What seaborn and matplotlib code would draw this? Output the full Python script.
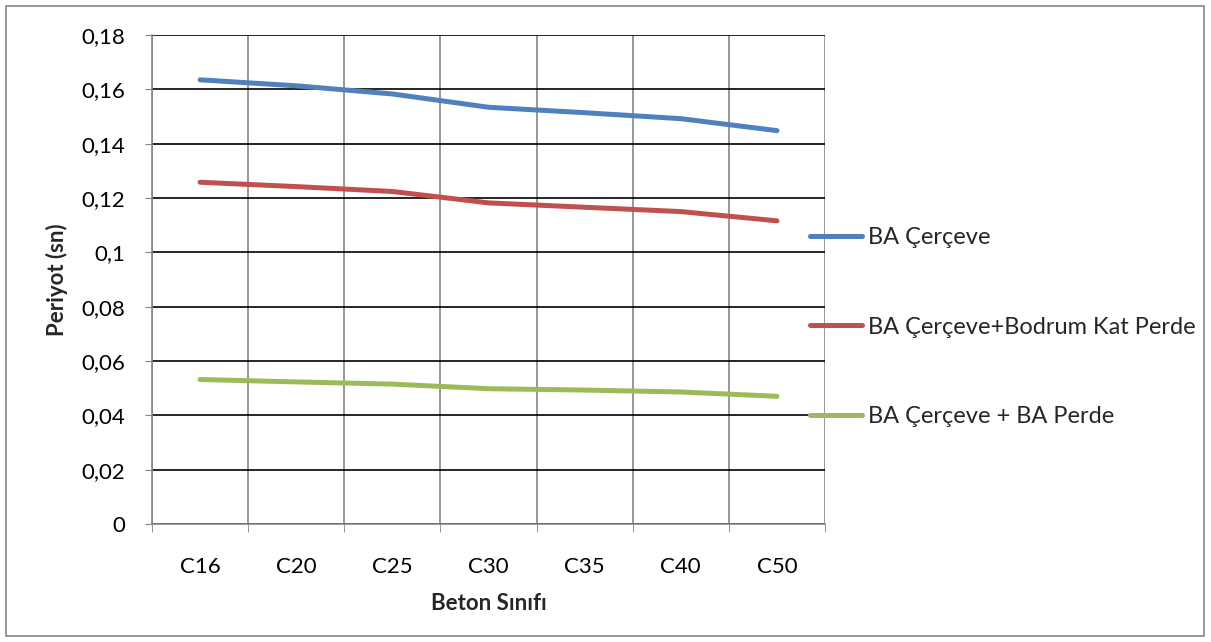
import numpy as np
import pandas as pd
import seaborn as sns
import matplotlib.pyplot as plt
from matplotlib.patches import Rectangle
from matplotlib.ticker import FuncFormatter, MultipleLocator

# data
siniflar = ["C16", "C20", "C25", "C30", "C35", "C40", "C50"]
ba_cerceve = [0.1635, 0.1613, 0.1583, 0.1534, 0.1514, 0.1492, 0.1448]
ba_bodrum = [0.1258, 0.1242, 0.1224, 0.1182, 0.1166, 0.1150, 0.1116]
ba_perde = [0.0532, 0.0523, 0.0515, 0.0498, 0.0493, 0.0486, 0.0470]
seri_adlari = ["BA Çerçeve", "BA Çerçeve+Bodrum Kat Perde", "BA Çerçeve + BA Perde"]
renkler = ["#4F81BD", "#C0504D", "#9BBB59"]

df = pd.DataFrame({
    "Beton Sınıfı": siniflar * 3,
    "Periyot (sn)": ba_cerceve + ba_bodrum + ba_perde,
    "Seri": [seri_adlari[0]] * 7 + [seri_adlari[1]] * 7 + [seri_adlari[2]] * 7,
})

sns.set_style("white")
plt.rcParams["font.family"] = ["Lato", "DejaVu Sans"]
fs = 16

fig = plt.figure(figsize=(12.11, 6.42), dpi=100)
ax = fig.add_axes([152 / 1211, 1 - 524 / 642, (825 - 152) / 1211, (524 - 35) / 642])

sns.lineplot(data=df, x="Beton Sınıfı", y="Periyot (sn)", hue="Seri",
             palette=renkler, linewidth=3.6, sort=False, ax=ax)
for ln in ax.get_lines():
    ln.set_solid_capstyle("round")

ax.set_xlim(-0.5, 6.5)
ax.set_ylim(0, 0.18)
ax.yaxis.set_major_locator(MultipleLocator(0.02))
ax.yaxis.set_major_formatter(FuncFormatter(
    lambda v, p: ("%.2f" % v).rstrip("0").rstrip(".").replace(".", ",")))

# grid: black horizontal, gray vertical on category edges
ax.set_xticks(np.arange(-0.5, 7, 1), minor=True)
ax.grid(True, axis="y", which="major", color="black", lw=1.2)
ax.grid(True, axis="x", which="minor", color="#868686", lw=1.2)
ax.grid(False, axis="x", which="major")
ax.set_axisbelow(True)

for s in ["top", "right"]:
    ax.spines[s].set_visible(False)
for s in ["left", "bottom"]:
    ax.spines[s].set_color("#868686")
    ax.spines[s].set_linewidth(1.2)

ax.tick_params(axis="y", which="major", left=True, length=5, color="#868686",
               labelsize=fs, pad=14, labelcolor="black")
ax.tick_params(axis="x", which="major", bottom=False, labelsize=fs, pad=20,
               labelcolor="black")
ax.tick_params(axis="x", which="minor", bottom=True, length=6, color="#868686")

ax.set_xlabel("Beton Sınıfı", fontsize=fs, fontweight="bold", labelpad=12)
ax.set_ylabel("Periyot (sn)", fontsize=fs, fontweight="bold", labelpad=10)

ax.legend(loc="center left", bbox_to_anchor=(810 / 1211, 1 - 327 / 642),
          bbox_transform=fig.transFigure, frameon=False, fontsize=17,
          labelspacing=2.9, handlelength=2.2, handletextpad=0.25,
          borderpad=0, borderaxespad=0)

fig.patches.append(Rectangle((6 / 1211, 6 / 642), 1198 / 1211, 630 / 642,
                             transform=fig.transFigure, fill=False,
                             edgecolor="#868686", lw=1.2))

fig.savefig("out.png", dpi=100)
